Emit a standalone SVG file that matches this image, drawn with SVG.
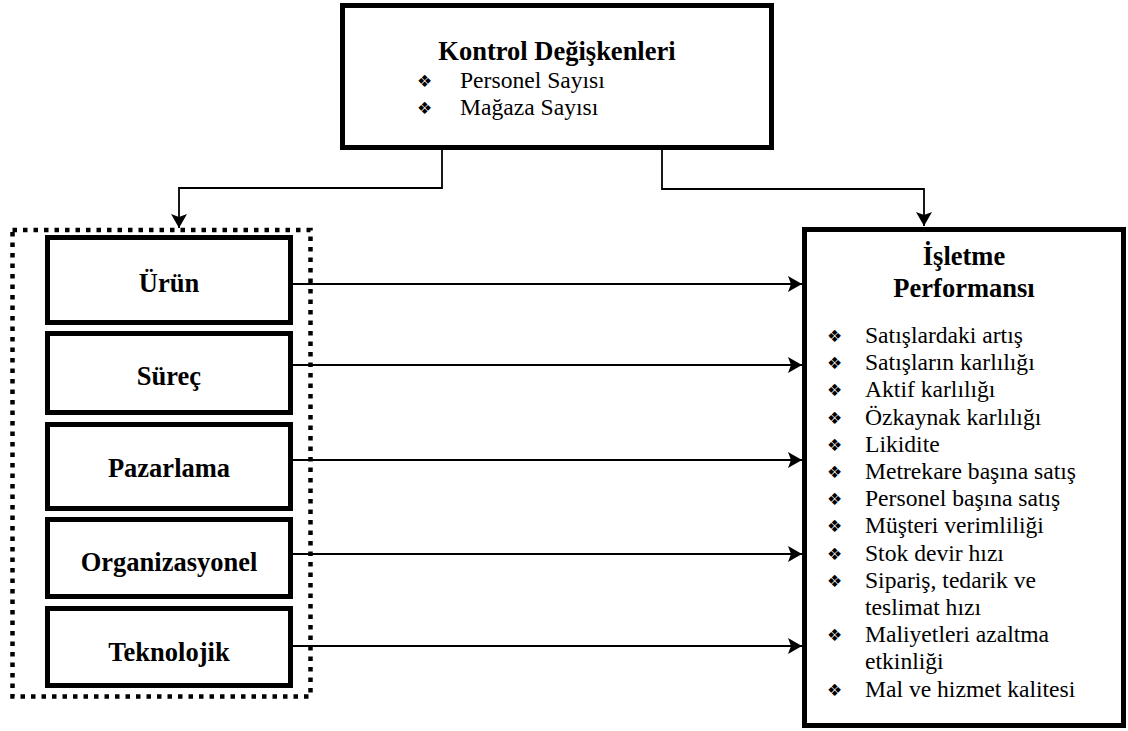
<svg xmlns="http://www.w3.org/2000/svg" width="1128" height="731" viewBox="0 0 1128 731">
<defs>
<style>
.box{fill:#fff;stroke:#000;stroke-width:5}
.dot{fill:none;stroke:#000;stroke-width:4.5;stroke-dasharray:4.5 6}
.conn{fill:none;stroke:#000;stroke-width:1.8}
.lbl{font-family:"Liberation Serif","Times New Roman",serif;font-weight:bold;font-size:26.5px;fill:#000;text-anchor:middle}
.item{font-family:"Liberation Serif","Times New Roman",serif;font-size:23.6px;fill:#000}
.bul{font-family:"DejaVu Sans",sans-serif;font-size:17px;fill:#000}
</style>
<marker id="arr" viewBox="0 0 14 16" refX="14" refY="8" markerWidth="14" markerHeight="16" markerUnits="userSpaceOnUse" orient="auto">
<path d="M0,0 L14,8 L0,16 L3,8 z" fill="#000"/>
</marker>
</defs>
<g id="kontrol">
<rect class="box" x="342.5" y="5.5" width="429" height="142"/>
<text class="lbl" x="557" y="60">Kontrol Değişkenleri</text>
<text class="bul" x="417" y="87">❖</text><text class="item" x="460" y="88">Personel Sayısı</text>
<text class="bul" x="417" y="114">❖</text><text class="item" x="460" y="115">Mağaza Sayısı</text>
</g>
<g id="group">
<rect class="dot" x="12.5" y="230" width="298" height="466.5"/>
</g>
<g id="urun"><rect class="box" x="47.5" y="237.5" width="243" height="85"/><text class="lbl" x="169" y="292">Ürün</text></g>
<g id="surec"><rect class="box" x="47.5" y="333.5" width="243" height="79"/><text class="lbl" x="169" y="385">Süreç</text></g>
<g id="pazarlama"><rect class="box" x="47.5" y="424.5" width="243" height="84"/><text class="lbl" x="169" y="477">Pazarlama</text></g>
<g id="organizasyonel"><rect class="box" x="47.5" y="519.5" width="243" height="77"/><text class="lbl" x="169" y="571">Organizasyonel</text></g>
<g id="teknolojik"><rect class="box" x="47.5" y="608.5" width="243" height="77"/><text class="lbl" x="169" y="661">Teknolojik</text></g>
<g id="performans">
<rect class="box" x="804.5" y="229.5" width="319" height="496"/>
<text class="lbl" x="964" y="265">İşletme</text>
<text class="lbl" x="964" y="297">Performansı</text>
<g class="item">
<text x="865" y="343">Satışlardaki artış</text>
<text x="865" y="370">Satışların karlılığı</text>
<text x="865" y="397">Aktif karlılığı</text>
<text x="865" y="425">Özkaynak karlılığı</text>
<text x="865" y="452">Likidite</text>
<text x="865" y="479">Metrekare başına satış</text>
<text x="865" y="506">Personel başına satış</text>
<text x="865" y="533">Müşteri verimliliği</text>
<text x="865" y="561">Stok devir hızı</text>
<text x="865" y="588">Sipariş, tedarik ve</text>
<text x="865" y="615">teslimat hızı</text>
<text x="865" y="642">Maliyetleri azaltma</text>
<text x="865" y="669">etkinliği</text>
<text x="865" y="697">Mal ve hizmet kalitesi</text>
</g>
<g class="bul">
<text x="827" y="342">❖</text>
<text x="827" y="369">❖</text>
<text x="827" y="396">❖</text>
<text x="827" y="424">❖</text>
<text x="827" y="451">❖</text>
<text x="827" y="478">❖</text>
<text x="827" y="505">❖</text>
<text x="827" y="532">❖</text>
<text x="827" y="560">❖</text>
<text x="827" y="587">❖</text>
<text x="827" y="641">❖</text>
<text x="827" y="696">❖</text>
</g>
</g>
<g id="connectors">
<path class="conn" d="M442,150 V188 H179 V228" marker-end="url(#arr)"/>
<path class="conn" d="M662,150 V189 H924 V226" marker-end="url(#arr)"/>
<path class="conn" d="M293,284 H802" marker-end="url(#arr)"/>
<path class="conn" d="M293,365 H802" marker-end="url(#arr)"/>
<path class="conn" d="M293,460 H802" marker-end="url(#arr)"/>
<path class="conn" d="M293,554 H802" marker-end="url(#arr)"/>
<path class="conn" d="M293,646 H802" marker-end="url(#arr)"/>
</g>
</svg>
